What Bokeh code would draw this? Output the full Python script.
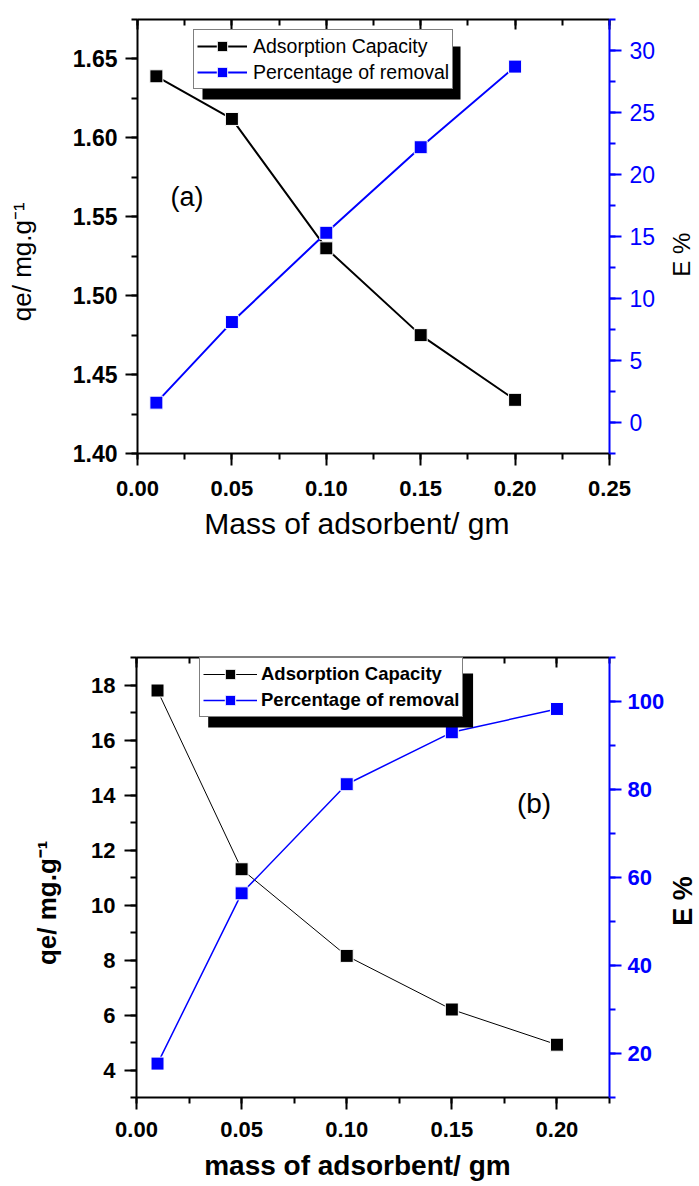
import math
from bokeh.plotting import figure
from bokeh.models import (Range1d, LinearAxis, SingleIntervalTicker, PrintfTickFormatter,
                          Legend, LegendItem, BoxAnnotation, Label)
from bokeh.layouts import column, row
from bokeh.embed import file_html
from bokeh.resources import INLINE

# ---------------- data ----------------
mass_a = [0.01, 0.05, 0.10, 0.15, 0.20]
qe_a = [1.639, 1.612, 1.530, 1.475, 1.434]
removal_a = [1.6, 8.1, 15.3, 22.2, 28.7]

mass_b = [0.01, 0.05, 0.10, 0.15, 0.20]
qe_b = [17.8, 11.3, 8.15, 6.2, 4.92]
removal_b = [17.7, 56.4, 81.2, 93.0, 98.3]

series_names = ["Adsorption Capacity", "Percentage of removal"]
xlabel_a = "Mass of adsorbent/ gm"
xlabel_b = "mass of adsorbent/ gm"
ylabel = "qe/ mg.g\u207b\u00b9"
y2label = "E %"

FONT = "Liberation Sans"
BLUE = "#0000FF"
NB = "\u00a0"  # padding used only to shift titles off-centre like the original
MAIN_W, STRIP_W = 667, 32
HA, HB = 570, 616


def style_axis(ax, color, bold, size, title_size, tick_standoff, title_standoff, title_bold):
    ax.axis_line_color = color
    ax.axis_line_width = 2
    ax.major_tick_line_color = color
    ax.minor_tick_line_color = color
    ax.major_tick_line_width = 2
    ax.minor_tick_line_width = 2
    ax.major_tick_out = 12
    ax.major_tick_in = 0
    ax.minor_tick_out = 6
    ax.minor_tick_in = 0
    ax.major_label_text_color = color
    ax.major_label_text_font = FONT
    ax.major_label_text_font_size = size
    ax.major_label_text_font_style = "bold" if bold else "normal"
    ax.major_label_standoff = tick_standoff
    ax.axis_label_text_font = FONT
    ax.axis_label_text_font_size = title_size
    ax.axis_label_text_color = "black"
    ax.axis_label_standoff = title_standoff
    ax.axis_label_text_font_style = "bold" if title_bold else "normal"


def top_axis(interval):
    ax = LinearAxis(ticker=SingleIntervalTicker(interval=interval, num_minor_ticks=2))
    ax.axis_line_width = 2
    ax.major_tick_line_width = 2
    ax.minor_tick_line_width = 2
    ax.major_tick_in = 10
    ax.major_tick_out = 0
    ax.minor_tick_in = 6
    ax.minor_tick_out = 0
    ax.major_label_text_font_size = "1px"
    ax.major_label_text_color = None
    ax.major_label_standoff = 0
    return ax


def make_panel(mass, qe, rem, xr, yr, y2r, xint, yint, y2int, fmt_x, fmt_y,
               width, height, b_left, b_right, b_top, b_bottom,
               xlab, ylab, line_w_black, line_w_blue):
    p = figure(width=width, height=height, x_range=Range1d(*xr), y_range=Range1d(*yr),
               output_backend="svg", toolbar_location=None, title=None,
               min_border_left=b_left, min_border_right=b_right,
               min_border_top=b_top, min_border_bottom=b_bottom)
    p.grid.visible = False
    p.outline_line_color = None
    p.background_fill_color = "white"
    p.extra_y_ranges = {"e": Range1d(*y2r)}

    xa = p.xaxis[0]
    xa.ticker = SingleIntervalTicker(interval=xint, num_minor_ticks=2)
    xa.formatter = PrintfTickFormatter(format=fmt_x)
    xa.axis_label = xlab
    ya = p.yaxis[0]
    ya.ticker = SingleIntervalTicker(interval=yint, num_minor_ticks=2)
    ya.formatter = PrintfTickFormatter(format=fmt_y)
    ya.axis_label = ylab

    ra = LinearAxis(y_range_name="e",
                    ticker=SingleIntervalTicker(interval=y2int, num_minor_ticks=2))
    p.add_layout(ra, "right")
    p.add_layout(top_axis(xint), "above")

    lq = p.line(mass, qe, line_color="black", line_width=line_w_black)
    sq = p.scatter(mass, qe, marker="square", size=13, fill_color="black",
                   line_color="white", line_width=1)
    le = p.line(mass, rem, line_color=BLUE, line_width=line_w_blue, y_range_name="e")
    se = p.scatter(mass, rem, marker="square", size=13, fill_color=BLUE,
                   line_color="white", line_width=1, y_range_name="e")
    return p, xa, ya, ra, [lq, sq], [le, se]


def title_strip(height, text, cx, cy, size, bold):
    """Narrow companion figure holding the right-hand axis title (E %)."""
    s = figure(width=STRIP_W, height=height, x_range=Range1d(0, STRIP_W),
               y_range=Range1d(0, height), x_axis_location=None, y_axis_location=None,
               min_border=0, output_backend="svg", toolbar_location=None, title=None)
    s.grid.visible = False
    s.outline_line_color = None
    s.add_layout(Label(x=cx, y=height - cy, text=text, angle=math.pi / 2,
                       text_font=FONT, text_font_size=size, text_color="black",
                       text_font_style="bold" if bold else "normal",
                       text_baseline="middle", text_align="center"))
    return s


def px2data(f, dx, dy):
    return (f["x0"] + dx / f["w"] * (f["x1"] - f["x0"]),
            f["y1"] - dy / f["h"] * (f["y1"] - f["y0"]))


# ---------------- panel (a) ----------------
pa, xa, ya, ra, rq, re_ = make_panel(
    mass_a, qe_a, removal_a, (0, 0.25), (1.40, 1.675), (-2.5, 32.5),
    0.05, 0.05, 5, "%.2f", "%.2f",
    MAIN_W, HA, 137, MAIN_W - 609, 19, HA - 453,
    xlabel_a + NB * 4, ylabel + NB * 7, 2, 2)
style_axis(xa, "black", True, "22px", "30px", 15, 8, False)
style_axis(ya, "black", True, "23px", "26px", 8, 33, False)
style_axis(ra, BLUE, False, "23px", "24px", 8, 10, False)

FA = dict(w=472, h=434, x0=0.0, x1=0.25, y0=1.40, y1=1.675)
l, t = px2data(FA, 65, 27)
r, b = px2data(FA, 323, 80)
pa.add_layout(BoxAnnotation(left=l, right=r, top=t, bottom=b, fill_color="black",
                            fill_alpha=1, line_color=None))
leg_a = Legend(items=[LegendItem(label=series_names[0], renderers=rq),
                      LegendItem(label=series_names[1], renderers=re_)],
               location=(56, 364), padding=3, spacing=-3, glyph_width=50,
               glyph_height=26, label_height=20, label_standoff=6, margin=0,
               label_text_font=FONT, label_text_font_size="19.5px",
               label_text_color="black",
               border_line_color="black", border_line_width=1,
               background_fill_color="white", background_fill_alpha=1)
pa.add_layout(leg_a)
lx, ly = px2data(FA, 33, 177)
pa.add_layout(Label(x=lx, y=ly, text="(a)", text_font=FONT, text_font_size="27px",
                    text_color="black", text_baseline="middle", text_align="left"))
sa = title_strip(HA, y2label, 681 - MAIN_W, 309, "24px", False)

# ---------------- panel (b) ----------------
pb, xb, yb, rb, rq2, re2 = make_panel(
    mass_b, qe_b, removal_b, (0, 0.225), (3, 19), (10, 110),
    0.05, 2, 20, "%.2f", "%d",
    MAIN_W, HB, 136, MAIN_W - 611, 657 - HA, HA + HB - 1097,
    xlabel_b + NB * 4, ylabel + NB * 7, 1, 1.5)
style_axis(xb, "black", True, "22px", "28px", 12, 10, True)
style_axis(yb, "black", True, "22px", "26px", 9, 26, True)
style_axis(rb, BLUE, True, "22px", "26px", 6, 5, True)

FB = dict(w=475, h=440, x0=0.0, x1=0.225, y0=3, y1=19)
l, t = px2data(FB, 72, 16)
r, b = px2data(FB, 338, 70)
pb.add_layout(BoxAnnotation(left=l, right=r, top=t, bottom=b, fill_color="black",
                            fill_alpha=1, line_color=None))
leg_b = Legend(items=[LegendItem(label=series_names[0], renderers=rq2),
                      LegendItem(label=series_names[1], renderers=re2)],
               location=(63, 380), padding=3, spacing=-3, glyph_width=54,
               glyph_height=26, label_height=20, label_standoff=4, margin=0,
               label_text_font=FONT, label_text_font_size="18.5px",
               label_text_font_style="bold", label_text_color="black",
               border_line_color="black", border_line_width=1,
               background_fill_color="white", background_fill_alpha=1)
pb.add_layout(leg_b)
lx, ly = px2data(FB, 382, 146)
pb.add_layout(Label(x=lx, y=ly, text="(b)", text_font=FONT, text_font_size="28px",
                    text_color="black", text_baseline="middle", text_align="left"))
sb = title_strip(HB, y2label, 682 - MAIN_W, 911 - HA, "27px", True)

layout = column(row(pa, sa, spacing=0), row(pb, sb, spacing=0), spacing=0)
open("out.html", "w").write(file_html(layout, INLINE))
